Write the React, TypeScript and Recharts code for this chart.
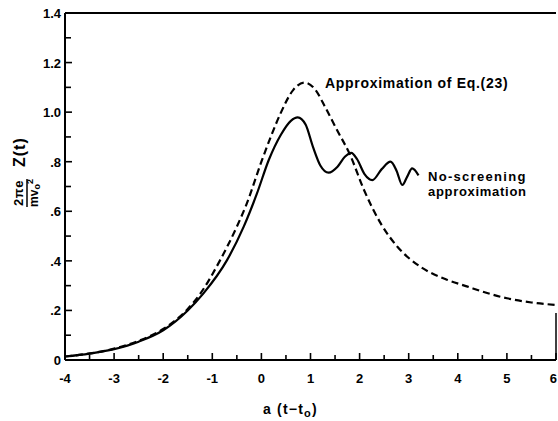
import React from "react";
import { LineChart, Line, XAxis, YAxis, ReferenceLine } from "recharts";

// ---- data ----
const solidX = [-4, -3.5, -3, -2.5, -2, -1.5, -1.18, -0.7, -0.36, -0.09, 0.15, 0.4, 0.6, 0.74, 0.9, 1.05, 1.2, 1.37, 1.55, 1.7, 1.83, 1.95, 2.1, 2.26, 2.45, 2.63, 2.75, 2.87, 2.97, 3.07, 3.2];
const solidY = [0.014, 0.026, 0.044, 0.074, 0.12, 0.2, 0.269, 0.403, 0.538, 0.672, 0.807, 0.91, 0.965, 0.979, 0.95, 0.86, 0.785, 0.756, 0.78, 0.82, 0.836, 0.81, 0.75, 0.726, 0.77, 0.8, 0.765, 0.706, 0.74, 0.773, 0.745];

const dashedX = [-4, -3, -2.5, -2, -1.5, -1.24, -0.84, -0.5, -0.3, 0, 0.2, 0.39, 0.65, 0.88, 1.1, 1.3, 1.54, 1.8, 2.09, 2.43, 2.77, 3.24, 3.79, 4.2, 4.5, 5, 5.5, 6];
const dashedY = [0.014, 0.046, 0.077, 0.125, 0.206, 0.269, 0.403, 0.538, 0.63, 0.8, 0.905, 0.995, 1.09, 1.119, 1.09, 1.02, 0.928, 0.83, 0.686, 0.551, 0.457, 0.376, 0.323, 0.296, 0.276, 0.249, 0.232, 0.222];

const xTicks = [-4, -3.5, -3, -2.5, -2, -1.5, -1, -0.5, 0, 0.5, 1, 1.5, 2, 2.5, 3, 3.5, 4, 4.5, 5, 5.5, 6];
const xTickLabels: Record<string, string> = { "-4": "-4", "-3": "-3", "-2": "-2", "-1": "-1", "0": "0", "1": "1", "2": "2", "3": "3", "4": "4", "5": "5", "6": "6" };
const yTicks = [0, 0.1, 0.2, 0.3, 0.4, 0.5, 0.6, 0.7, 0.8, 0.9, 1.0, 1.1, 1.2, 1.3, 1.4];
const yTickLabels: Record<string, string> = { "0": "0", "0.2": ".2", "0.4": ".4", "0.6": ".6", "0.8": ".8", "1": "1.0", "1.2": "1.2", "1.4": "1.4" };

const solidData = solidX.map((x, i) => ({ x, y: solidY[i] }));
const dashedData = dashedX.map((x, i) => ({ x, y: dashedY[i] }));

const FONT = "'Liberation Sans', Arial, sans-serif";

const XTick = (props: any) => {
  const { x, y, payload } = props;
  const v = payload.value;
  const key = String(Math.round(v * 10) / 10);
  const label = xTickLabels[key];
  const major = label !== undefined;
  const last = v >= 6;
  return (
    <g>
      <line x1={x} y1={y} x2={x} y2={y - (major ? 7 : 5)} stroke="#000" strokeWidth={1.6} />
      {major && (
        <text x={last ? x + 1 : x} y={y + 23} textAnchor={last ? "end" : "middle"} fontFamily={FONT} fontWeight="bold" fontSize={13} fill="#000">
          {label}
        </text>
      )}
    </g>
  );
};

const YTick = (props: any) => {
  const { x, y, payload } = props;
  const v = payload.value;
  const key = String(Math.round(v * 10) / 10);
  const label = yTickLabels[key];
  const major = label !== undefined;
  return (
    <g>
      <line x1={x} y1={y} x2={x + (major ? 7 : 6)} y2={y} stroke="#000" strokeWidth={1.6} />
      {major && (
        <text x={x - 4} y={y + 5} textAnchor="end" fontFamily={FONT} fontWeight="bold" fontSize={13} fill="#000">
          {label}
        </text>
      )}
    </g>
  );
};

export default function App() {
  return (
    <div style={{ position: "absolute", left: 0, top: 0, width: 558, height: 421, background: "#fff" }}>
      <LineChart width={558} height={421} margin={{ top: 13, right: 2, left: 5, bottom: 31 }}>
        <XAxis
          type="number"
          dataKey="x"
          domain={[-4, 6]}
          ticks={xTicks}
          interval={0}
          tick={<XTick />}
          tickSize={0}
          tickMargin={0}
          tickLine={false}
          height={30}
          axisLine={{ stroke: "#000", strokeWidth: 2 }}
          allowDataOverflow
        />
        <YAxis
          type="number"
          dataKey="y"
          domain={[0, 1.4]}
          ticks={yTicks}
          interval={0}
          tick={<YTick />}
          tickSize={0}
          tickMargin={0}
          tickLine={false}
          width={60}
          axisLine={{ stroke: "#000", strokeWidth: 2 }}
          allowDataOverflow
        />
        <ReferenceLine y={1.4} stroke="#000" strokeWidth={2} />
        <ReferenceLine segment={[{ x: 6, y: 0 }, { x: 6, y: 0.19 }]} stroke="#000" strokeWidth={1.5} />
        <Line
          data={dashedData}
          dataKey="y"
          type="monotone"
          stroke="#000"
          strokeWidth={2.2}
          strokeDasharray="7 4"
          dot={false}
          isAnimationActive={false}
        />
        <Line
          data={solidData}
          dataKey="y"
          type="monotone"
          stroke="#000"
          strokeWidth={2.2}
          dot={false}
          isAnimationActive={false}
        />
      </LineChart>
      <svg width={558} height={421} style={{ position: "absolute", left: 0, top: 0, pointerEvents: "none" }}>
        <text x={325} y={88} fontFamily={FONT} fontWeight="bold" fontSize={14} letterSpacing={0.7} fill="#000">
          Approximation of Eq.(23)
        </text>
        <text x={428} y={181} fontFamily={FONT} fontWeight="bold" fontSize={13} letterSpacing={1.3} fill="#000">
          No-screening
        </text>
        <text x={428} y={196} fontFamily={FONT} fontWeight="bold" fontSize={13} letterSpacing={0.7} fill="#000">
          approximation
        </text>
        <text x={263} y={414} fontFamily={FONT} fontWeight="bold" fontSize={14} letterSpacing={1.2} fill="#000">
          a (t−t<tspan fontSize={11} dy={3}>o</tspan><tspan dy={-3}>)</tspan>
        </text>
        <g transform="translate(27,170) rotate(-90)">
          <text x={-23} y={-4} textAnchor="middle" fontFamily={FONT} fontWeight="bold" fontSize={13} letterSpacing={0.5} fill="#000">
            2πe
          </text>
          <line x1={-37} y1={0} x2={-9} y2={0} stroke="#000" strokeWidth={1.5} />
          <text x={-23} y={11} textAnchor="middle" fontFamily={FONT} fontWeight="bold" fontSize={12} fill="#000">
            mv<tspan fontSize={9} dy={2}>o</tspan><tspan fontSize={9} dy={-7}>2</tspan>
          </text>
          <text x={3} y={-2} fontFamily={FONT} fontWeight="bold" fontSize={16} letterSpacing={1} fill="#000">
            Z(t)
          </text>
        </g>
      </svg>
    </div>
  );
}
